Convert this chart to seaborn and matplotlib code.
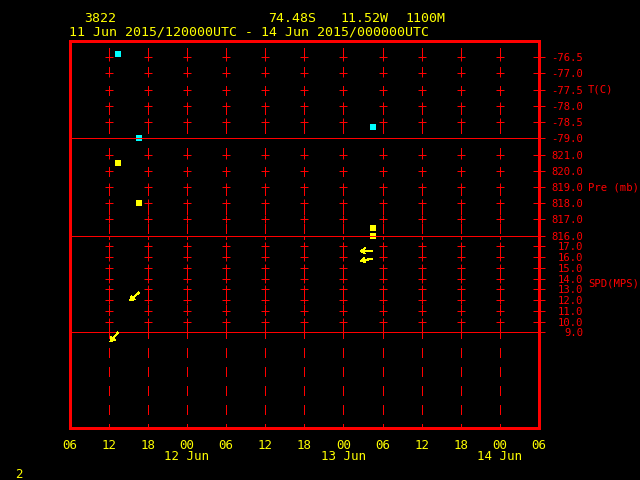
import numpy as np
import pandas as pd
import matplotlib
matplotlib.use("Agg")
import matplotlib.pyplot as plt
import matplotlib.transforms as mtransforms
import seaborn as sns

# observations, x = hours after 11 Jun 2015 06 UTC
obs_hours = [7.48, 10.70, 46.52, 46.52]
obs_temp = [-76.39, -79.0, -78.65, np.nan]
obs_pres = [820.48, 818.0, 816.48, 815.98]
obs_sped = [9.0, 12.72, 16.59, 15.85]
obs_drct = [41, 50, 89, 81]

x_ticks = list(range(0, 73, 6))
x_labels = ["06", "12", "18", "00", "06", "12", "18", "00", "06", "12", "18", "00", "06"]
day_labels = ["12 Jun", "13 Jun", "14 Jun"]
day_hours = [18, 42, 66]

temp_ticks = [-79.0, -78.5, -78.0, -77.5, -77.0, -76.5]
pres_ticks = [816.0, 817.0, 818.0, 819.0, 820.0, 821.0]
sped_ticks = [9.0, 10.0, 11.0, 12.0, 13.0, 14.0, 15.0, 16.0, 17.0]

df = pd.DataFrame({"hours": obs_hours, "temp": obs_temp, "pres": obs_pres,
                   "sped": obs_sped, "drct": obs_drct})

sns.set_style("dark", {"axes.facecolor": "black", "figure.facecolor": "black",
                       "axes.grid": False, "axes.edgecolor": "red"})
plt.rcParams["font.family"] = ["DejaVu Sans Mono"]
plt.rcParams["lines.antialiased"] = False
plt.rcParams["patch.antialiased"] = False

RED = "#ff0000"
YEL = "#ffff00"
CYAN = "#00ffff"
W, H = 640, 480
L, R = 69.5, 539.0
edges = [41.0, 138.3, 235.7, 332.3, 428.3]
PX = 0.72  # one pixel in points

fig = plt.figure(figsize=(6.4, 4.8), dpi=100, facecolor="black")

axes = []
for i in range(4):
    top, bot = edges[i], edges[i + 1]
    ax = fig.add_axes([L / W, 1 - bot / H, (R - L) / W, (bot - top) / H])
    ax.set_facecolor("none")
    ax.set_xlim(0, 72)
    for s in ax.spines.values():
        s.set_color(RED)
        s.set_antialiased(False)
    ax.spines["left"].set_linewidth(3 * PX)
    ax.spines["right"].set_linewidth(3 * PX)
    ax.spines["top"].set_linewidth(3 * PX if i == 0 else PX)
    ax.spines["bottom"].set_linewidth(3 * PX if i == 3 else PX)
    if i > 0:
        ax.spines["top"].set_visible(False)
    # dashed vertical grid, phase matched across panels
    off = (top - 49) % 20
    for xg in x_ticks[1:-1]:
        ax.plot([xg, xg], [1, 0], transform=ax.get_xaxis_transform(), color=RED,
                lw=PX, linestyle=(off, (10, 10)), zorder=1.5)
    axes.append(ax)

ax_t, ax_p, ax_s, ax_b = axes
ax_t.set_ylim(-79, -76)
ax_p.set_ylim(816, 822)
ax_s.set_ylim(9, 18)
ax_b.set_ylim(0, 1)

for ax, ticks in [(ax_t, temp_ticks), (ax_p, pres_ticks), (ax_s, sped_ticks)]:
    ax.yaxis.tick_right()
    ax.set_yticks(ticks, ["{:.1f}".format(t) for t in ticks])
    ax.tick_params(axis="y", direction="inout", length=12 * PX, width=PX, color=RED,
                   labelcolor=RED, labelsize=7.6, pad=27.6, left=False)
    plt.setp(ax.get_yticklabels(), ha="right")
    # crosses where grid meets interior ticks
    gx, gy = np.meshgrid(x_ticks[1:-1], ticks[1:])
    ax.plot(gx.ravel(), gy.ravel(), ls="", marker="+", ms=5.5, mew=PX, color=RED, zorder=1.5)

for ax in axes[:3]:
    ax.set_xticks([])
ax_b.set_yticks([])
ax_b.set_xticks(x_ticks, x_labels)
ax_b.tick_params(axis="x", length=0, labelcolor=YEL, labelsize=9, pad=7.5)

# data
sns.scatterplot(data=df, x="hours", y="temp", ax=ax_t, color=CYAN, marker="s",
                s=13, linewidth=0, clip_on=False, zorder=1, antialiased=False)
sns.scatterplot(data=df, x="hours", y="pres", ax=ax_p, color=YEL, marker="s",
                s=13, linewidth=0, clip_on=False, zorder=1, antialiased=False)
rad = np.deg2rad(df["drct"].to_numpy())
q = ax_s.quiver(df["hours"], df["sped"], -np.sin(rad), -np.cos(rad), angles="uv",
                scale_units="inches", scale=1 / 0.127, pivot="tail", units="dots",
                width=1.1, headwidth=5.5, headlength=4.5, headaxislength=4,
                color=YEL, zorder=3)
q.set_clip_on(False)
for ax in axes:
    ax.set_xlabel("")
    ax.set_ylabel("")

# axis titles on the right
lx = (588 - L) / (R - L)
ax_t.text(lx, -77.5, "T(C)", transform=ax_t.get_yaxis_transform(), color=RED,
          fontsize=7.6, va="center", ha="left")
ax_p.text(lx, 819.0, "Pre (mb)", transform=ax_p.get_yaxis_transform(), color=RED,
          fontsize=7.6, va="center", ha="left")
ax_s.text(lx, 13.56, "SPD(MPS)", transform=ax_s.get_yaxis_transform(), color=RED,
          fontsize=7.6, va="center", ha="left")

# day labels under the 00 ticks
tr = mtransforms.blended_transform_factory(ax_b.transData, fig.transFigure)
for h, lab in zip(day_hours, day_labels):
    ax_b.text(h, 1 - 457 / H, lab, transform=tr, color=YEL, fontsize=9,
              ha="center", va="center", clip_on=False)

# header
for xp, txt in [(84.5, "3822"), (268.6, "74.48S"), (340, "11.52W"), (405, "1100M")]:
    fig.text(xp / W, 1 - 18 / H, txt, color=YEL, fontsize=9.5, ha="left", va="center")
fig.text(69.4 / W, 1 - 32 / H, "11 Jun 2015/120000UTC - 14 Jun 2015/000000UTC",
         color=YEL, fontsize=9.5, ha="left", va="center")
fig.text(19 / W, 1 - 474 / H, "2", color=YEL, fontsize=9, ha="center", va="center")

fig.savefig("out.png", dpi=100, facecolor="black")
